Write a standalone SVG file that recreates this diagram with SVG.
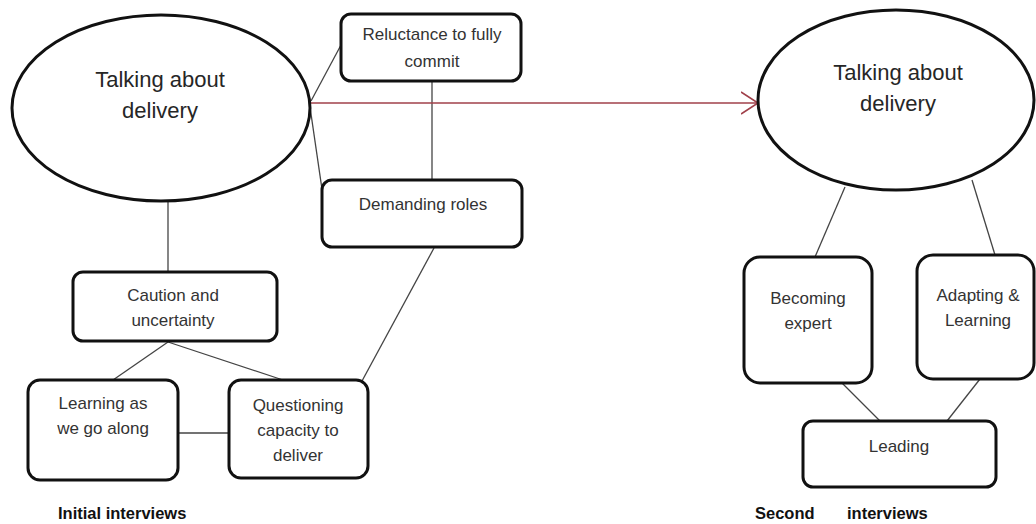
<svg xmlns="http://www.w3.org/2000/svg" width="1036" height="524" viewBox="0 0 1036 524">
<style>
.bg{fill:#ffffff}
.node{fill:#ffffff;stroke:#111111;stroke-width:3}
.t{font-family:"Liberation Sans",Arial,sans-serif;font-size:17px;fill:#333333;text-anchor:middle}
.tb{font-family:"Liberation Sans",Arial,sans-serif;font-size:22px;fill:#262626;text-anchor:middle}
.lbl{font-family:"Liberation Sans",Arial,sans-serif;font-size:16.5px;font-weight:bold;fill:#111111}
.c{stroke:#444444;stroke-width:1.3;fill:none}
.red{stroke:#a0404a;stroke-width:1.6;fill:none}
</style>
<defs>
<marker id="open" markerWidth="20" markerHeight="24" refX="17" refY="12" orient="auto" markerUnits="userSpaceOnUse">
<path d="M0,1 L17,12 L0,23" fill="none" stroke="#a0404a" stroke-width="1.6"/>
</marker>
</defs>
<rect class="bg" x="0" y="0" width="1036" height="524"/>
<g id="connectors">
<line class="c" x1="311" y1="101" x2="341" y2="45"/>
<line class="c" x1="310" y1="107" x2="324" y2="203"/>
<line class="c" x1="432" y1="81" x2="432" y2="180"/>
<line class="c" x1="168" y1="202" x2="168" y2="272"/>
<line class="c" x1="168" y1="342" x2="113" y2="380"/>
<line class="c" x1="168" y1="342" x2="283" y2="380"/>
<line class="c" x1="178" y1="433" x2="229" y2="433"/>
<line class="c" x1="434" y1="248" x2="362" y2="381"/>
<line class="c" x1="845" y1="187" x2="815" y2="257"/>
<line class="c" x1="972" y1="180" x2="995" y2="255"/>
<line class="c" x1="842" y1="383" x2="880" y2="421"/>
<line class="c" x1="980" y1="379" x2="947" y2="421"/>
<line class="red" x1="310" y1="103" x2="758" y2="103" marker-end="url(#open)"/>
</g>
<g id="n-talking1">
<ellipse class="node" cx="161" cy="108" rx="149" ry="93"/>
<text class="tb" x="160" y="87">Talking about</text>
<text class="tb" x="160" y="118">delivery</text>
</g>
<g id="n-reluctance">
<rect class="node" x="341" y="14" width="180" height="67" rx="10"/>
<text class="t" x="432" y="40">Reluctance to fully</text>
<text class="t" x="432" y="67">commit</text>
</g>
<g id="n-demanding">
<rect class="node" x="322" y="180" width="200" height="67" rx="10"/>
<text class="t" x="423" y="210">Demanding roles</text>
</g>
<g id="n-caution">
<rect class="node" x="73" y="272" width="204" height="69" rx="10"/>
<text class="t" x="173" y="301">Caution and</text>
<text class="t" x="173" y="326">uncertainty</text>
</g>
<g id="n-learning">
<rect class="node" x="28" y="380" width="150" height="100" rx="12"/>
<text class="t" x="103" y="409">Learning as</text>
<text class="t" x="103" y="434">we go along</text>
</g>
<g id="n-questioning">
<rect class="node" x="229" y="380" width="139" height="98" rx="12"/>
<text class="t" x="298" y="411">Questioning</text>
<text class="t" x="298" y="436">capacity to</text>
<text class="t" x="298" y="461">deliver</text>
</g>
<g id="n-talking2">
<ellipse class="node" cx="896" cy="100" rx="138" ry="90"/>
<text class="tb" x="898" y="80">Talking about</text>
<text class="tb" x="898" y="111">delivery</text>
</g>
<g id="n-becoming">
<rect class="node" x="744" y="257" width="128" height="126" rx="16"/>
<text class="t" x="808" y="304">Becoming</text>
<text class="t" x="808" y="329">expert</text>
</g>
<g id="n-adapting">
<rect class="node" x="917" y="255" width="117" height="124" rx="16"/>
<text class="t" x="978" y="301">Adapting &amp;</text>
<text class="t" x="978" y="326">Learning</text>
</g>
<g id="n-leading">
<rect class="node" x="803" y="421" width="193" height="66" rx="10"/>
<text class="t" x="899" y="452">Leading</text>
</g>
<g id="labels">
<text class="lbl" x="58" y="519">Initial interviews</text>
<text class="lbl" x="755" y="519">Second</text>
<text class="lbl" x="847" y="519">interviews</text>
</g>
</svg>
